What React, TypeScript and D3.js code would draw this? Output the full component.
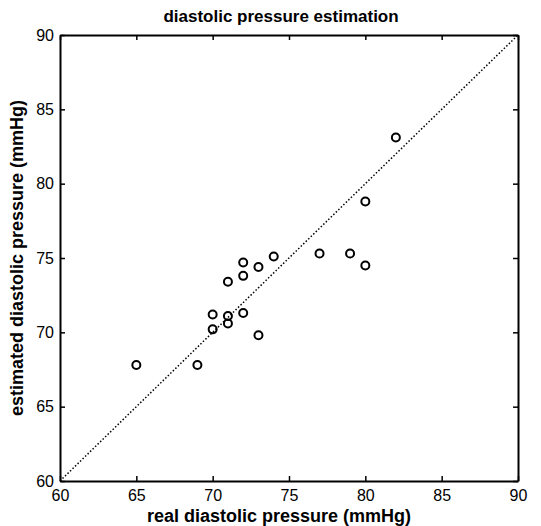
import React, { useRef, useEffect } from "react"
import * as d3 from "d3"

const realPressure = [65, 69, 70, 70, 71, 71, 71, 72, 72, 72, 73, 73, 74, 77, 79, 80, 80, 82]
const estimatedPressure = [67.8, 67.8, 71.2, 70.2, 73.4, 71.1, 70.6, 74.7, 73.8, 71.3, 74.4, 69.8, 75.1, 75.3, 75.3, 74.5, 78.8, 83.1]
const axisTicks = [60, 65, 70, 75, 80, 85, 90]
const identityLine = [60, 90]

const App = () => {
    const element = useRef<SVGSVGElement>(null)

    useEffect(() => {
        const svg = d3.select(element.current)
        svg.selectAll("*").remove()

        const left = 60, right = 518, top = 35, bottom = 481
        const font = "'Liberation Sans', Arial, sans-serif"

        const x = d3.scaleLinear().domain([60, 90]).range([left, right])
        const y = d3.scaleLinear().domain([60, 90]).range([bottom, top])

        svg.append("rect")
            .attr("width", 541).attr("height", 526).attr("fill", "#fff")

        // axes, MATLAB style: ticks inward on all four sides
        const tickLen = 5
        const xb = svg.append("g").attr("transform", `translate(0,${bottom})`)
            .call(d3.axisBottom(x).tickValues(axisTicks).tickSizeInner(-tickLen).tickSizeOuter(0).tickPadding(9))
        const xt = svg.append("g").attr("transform", `translate(0,${top})`)
            .call(d3.axisTop(x).tickValues(axisTicks).tickSizeInner(-tickLen).tickSizeOuter(0).tickFormat(() => ""))
        const yl = svg.append("g").attr("transform", `translate(${left},0)`)
            .call(d3.axisLeft(y).tickValues(axisTicks).tickSizeInner(-tickLen).tickSizeOuter(0).tickPadding(6))
        const yr = svg.append("g").attr("transform", `translate(${right},0)`)
            .call(d3.axisRight(y).tickValues(axisTicks).tickSizeInner(-tickLen).tickSizeOuter(0).tickFormat(() => ""))

        ;[xb, xt, yl, yr].forEach(g => {
            g.select(".domain").attr("stroke", "#000").attr("stroke-width", 2)
            g.selectAll(".tick line").attr("stroke", "#000").attr("stroke-width", 1.5)
            g.selectAll("text")
                .attr("fill", "#000")
                .attr("font-family", font)
                .attr("font-size", 16)
        })

        // diagonal reference line
        svg.append("line")
            .attr("x1", x(identityLine[0])).attr("y1", y(identityLine[0]))
            .attr("x2", x(identityLine[1])).attr("y2", y(identityLine[1]))
            .attr("stroke", "#000")
            .attr("stroke-width", 1.5)
            .attr("stroke-dasharray", "1.5,2")

        svg.append("g").selectAll("circle")
            .data(realPressure)
            .join("circle")
            .attr("cx", d => x(d))
            .attr("cy", (d, i) => y(estimatedPressure[i]))
            .attr("r", 4)
            .attr("fill", "none")
            .attr("stroke", "#000")
            .attr("stroke-width", 2)

        svg.append("text")
            .attr("x", (left + right) / 2 - 8).attr("y", 22)
            .attr("text-anchor", "middle")
            .attr("font-family", font).attr("font-weight", "bold").attr("font-size", 17)
            .text("diastolic pressure estimation")

        svg.append("text")
            .attr("x", (left + right) / 2 - 10).attr("y", 522)
            .attr("text-anchor", "middle")
            .attr("font-family", font).attr("font-weight", "bold").attr("font-size", 18)
            .text("real diastolic pressure (mmHg)")

        svg.append("text")
            .attr("transform", `translate(23,${(top + bottom) / 2}) rotate(-90)`)
            .attr("text-anchor", "middle")
            .attr("font-family", font).attr("font-weight", "bold").attr("font-size", 18)
            .text("estimated diastolic pressure (mmHg)")
    }, [])

    return (
        <svg ref={element} width={541} height={526}
            style={{ position: "absolute", left: 0, top: 0, display: "block" }} />
    )
}

export default App
